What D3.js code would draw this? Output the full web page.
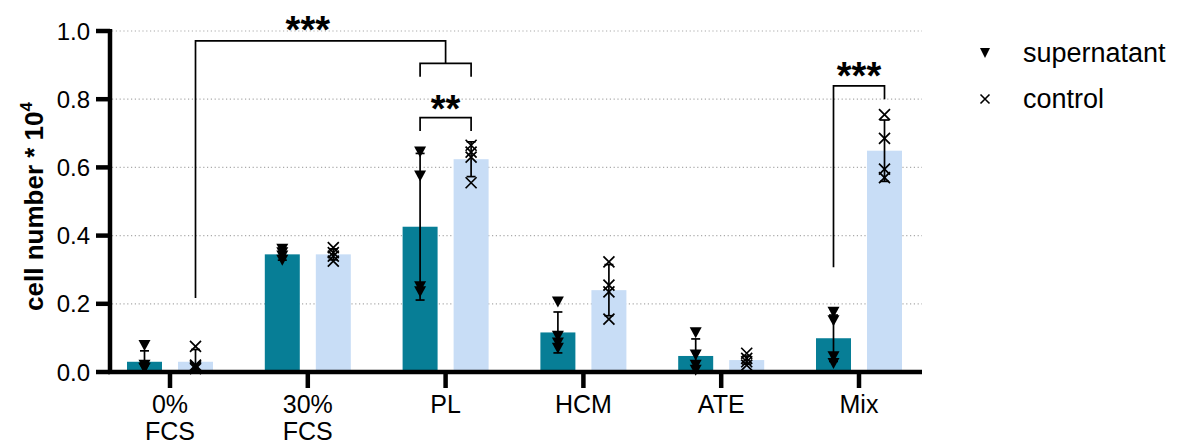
<!DOCTYPE html>
<html>
<head>
<meta charset="utf-8">
<script src="https://cdn.jsdelivr.net/npm/d3@7"></script>
<style>
  html, body { margin: 0; padding: 0; background: #fff; }
  svg { display: block; font-family: "Liberation Sans", Arial, Helvetica, sans-serif; }
</style>
</head>
<body>
<svg id="chart" width="1177" height="445"></svg>
<script>
// ---------- data ----------
const categories = ["0% FCS", "30% FCS", "PL", "HCM", "ATE", "Mix"];
const tickLabels = [["0%", "FCS"], ["30%", "FCS"], ["PL"], ["HCM"], ["ATE"], ["Mix"]];
const series = ["supernatant", "control"];

const supMean = [0.030, 0.345, 0.426, 0.116, 0.047, 0.099];
const supSD   = [0.032, 0.017, 0.215, 0.060, 0.050, 0.068];
const ctrlMean = [0.030, 0.345, 0.624, 0.240, 0.035, 0.649];
const ctrlSD   = [0.036, 0.016, 0.051, 0.075, 0.012, 0.090];

const supPoints = [
  [0.078, 0.020, 0.012, 0.010],
  [0.360, 0.350, 0.340, 0.328],
  [0.645, 0.575, 0.250, 0.235],
  [0.205, 0.105, 0.085, 0.070],
  [0.115, 0.050, 0.020, 0.005],
  [0.175, 0.150, 0.045, 0.025]
];
const ctrlPoints = [
  [0.075, 0.020, 0.015, 0.010],
  [0.365, 0.350, 0.340, 0.325],
  [0.665, 0.645, 0.630, 0.555],
  [0.323, 0.255, 0.235, 0.155],
  [0.055, 0.040, 0.030, 0.020],
  [0.755, 0.685, 0.595, 0.570]
];

const yTicks = [0, 0.2, 0.4, 0.6, 0.8, 1.0];

// significance brackets: [category, series(or null = group centre), value]
const sigLines = [
  [["0% FCS", "control", 0.217], ["0% FCS", "control", 0.971], ["PL", null, 0.971], ["PL", null, 0.905]],
  [["PL", "supernatant", 0.866], ["PL", "supernatant", 0.905], ["PL", "control", 0.905], ["PL", "control", 0.866]],
  [["PL", "supernatant", 0.707], ["PL", "supernatant", 0.746], ["PL", "control", 0.746], ["PL", "control", 0.707]],
  [["Mix", "supernatant", 0.307], ["Mix", "supernatant", 0.839], ["Mix", "control", 0.839], ["Mix", "control", 0.800]]
];
const sigLabels = [
  { text: "***", from: "0% FCS", to: "PL", value: 1.029 },
  { text: "**", from: "PL", to: "PL", value: 0.798 },
  { text: "***", from: "Mix", to: "Mix", value: 0.893 }
];

const colors = { supernatant: "#077e96", control: "#c8ddf6" };

// ---------- scales ----------
const svg = d3.select("#chart");
const x = d3.scalePoint().domain(categories).range([170, 859]);
const xs = d3.scaleBand().domain(series).range([-43, 43]).paddingInner(0.314).paddingOuter(0);
const y = d3.scaleLinear().domain([0, 1]).range([372, 31]);
const axisLeft = 110, axisRight = 922;

function cx(cat, s) {
  return s ? x(cat) + xs(s) + xs.bandwidth() / 2 : x(cat);
}

// ---------- gridlines ----------
svg.append("g").selectAll("line").data(yTicks.filter(d => d > 0)).join("line")
  .attr("x1", axisLeft + 2).attr("x2", axisRight)
  .attr("y1", d => y(d)).attr("y2", d => y(d))
  .attr("stroke", "#aaaaaa").attr("stroke-width", 1.2)
  .attr("stroke-dasharray", "1.2,2.6");

// ---------- bars ----------
const rows = [];
categories.forEach((c, i) => {
  rows.push({ cat: c, s: "supernatant", mean: supMean[i], sd: supSD[i], pts: supPoints[i] });
  rows.push({ cat: c, s: "control", mean: ctrlMean[i], sd: ctrlSD[i], pts: ctrlPoints[i] });
});

svg.append("g").selectAll("rect").data(rows).join("rect")
  .attr("x", d => x(d.cat) + xs(d.s))
  .attr("width", xs.bandwidth())
  .attr("y", d => y(d.mean))
  .attr("height", d => y(0) - y(d.mean))
  .attr("fill", d => colors[d.s]);

// ---------- error bars ----------
const eg = svg.append("g").attr("stroke", "#000").attr("stroke-width", 1.7).attr("fill", "none");
rows.forEach(d => {
  const px = cx(d.cat, d.s);
  const hi = y(d.mean + d.sd), lo = y(Math.max(0, d.mean - d.sd));
  eg.append("line").attr("x1", px).attr("x2", px).attr("y1", hi).attr("y2", lo);
  eg.append("line").attr("x1", px - 4.5).attr("x2", px + 4.5).attr("y1", hi).attr("y2", hi);
  if (d.mean - d.sd > 0) eg.append("line").attr("x1", px - 4.5).attr("x2", px + 4.5).attr("y1", lo).attr("y2", lo);
});

// ---------- points ----------
function triPath(w, h) { return `M${-w/2},${-h/2}L${w/2},${-h/2}L0,${h/2}Z`; }
function crossPath(s) { const r = s / 2; return `M${-r},${-r}L${r},${r}M${-r},${r}L${r},${-r}`; }

const pg = svg.append("g");
rows.forEach(d => {
  d.pts.forEach(v => {
    const px = cx(d.cat, d.s), py = y(v);
    if (d.s === "supernatant") {
      pg.append("path").attr("d", triPath(12, 11)).attr("transform", `translate(${px},${py})`).attr("fill", "#000");
    } else {
      pg.append("path").attr("d", crossPath(11)).attr("transform", `translate(${px},${py})`)
        .attr("stroke", "#000").attr("stroke-width", 1.7).attr("fill", "none");
    }
  });
});

// ---------- axes ----------
const ag = svg.append("g").attr("stroke", "#000").attr("stroke-width", 4.5);
ag.append("line").attr("x1", axisLeft).attr("x2", axisLeft).attr("y1", y(1) - 2).attr("y2", y(0) + 2);
ag.append("line").attr("x1", axisLeft - 2).attr("x2", axisRight).attr("y1", y(0)).attr("y2", y(0));
ag.selectAll(".yt").data(yTicks).join("line").attr("class", "yt")
  .attr("x1", axisLeft - 14).attr("x2", axisLeft).attr("y1", d => y(d)).attr("y2", d => y(d));
ag.selectAll(".xt").data(categories).join("line").attr("class", "xt")
  .attr("x1", d => x(d)).attr("x2", d => x(d)).attr("y1", y(0)).attr("y2", y(0) + 16);

svg.append("g").selectAll("text").data(yTicks).join("text")
  .attr("x", 90).attr("y", d => y(d) + 8.5)
  .attr("text-anchor", "end").attr("font-size", 24).attr("fill", "#000")
  .text(d => d3.format(".1f")(d));

const xl = svg.append("g").selectAll("text").data(categories).join("text")
  .attr("text-anchor", "middle").attr("font-size", 25).attr("fill", "#000");
xl.each(function(d, i) {
  const t = d3.select(this);
  tickLabels[i].forEach((line, j) => {
    t.append("tspan").attr("x", x(d)).attr("y", 413 + j * 27).text(line);
  });
});

// y title
const yt = svg.append("text")
  .attr("transform", `translate(43,${(y(0) + y(1)) / 2 + 5}) rotate(-90)`)
  .attr("text-anchor", "middle").attr("font-size", 26).attr("font-weight", "bold").attr("fill", "#000");
yt.append("tspan").text("cell number * 10");
yt.append("tspan").attr("font-size", 17).attr("dy", -11).text("4");

// ---------- significance ----------
const line = d3.line().x(p => cx(p[0], p[1])).y(p => y(p[2]));
svg.append("g").selectAll("path").data(sigLines).join("path")
  .attr("d", line).attr("fill", "none").attr("stroke", "#000").attr("stroke-width", 1.7);

svg.append("g").selectAll("text").data(sigLabels).join("text")
  .attr("x", d => (x(d.from) + x(d.to)) / 2)
  .attr("y", d => y(d.value) + 22)
  .attr("text-anchor", "middle").attr("font-size", 38).attr("font-weight", "bold").attr("fill", "#000")
  .text(d => d.text);

// ---------- legend ----------
const lg = svg.append("g");
series.forEach((s, i) => {
  const ly = 53 + i * 46;
  if (s === "supernatant") {
    lg.append("path").attr("d", triPath(10, 10)).attr("transform", `translate(985,${ly})`).attr("fill", "#000");
  } else {
    lg.append("path").attr("d", crossPath(9)).attr("transform", `translate(985,${ly})`)
      .attr("stroke", "#000").attr("stroke-width", 1.6).attr("fill", "none");
  }
  lg.append("text").attr("x", 1023).attr("y", ly + 9).attr("font-size", 27).attr("fill", "#000").text(s);
});
</script>
</body>
</html>
